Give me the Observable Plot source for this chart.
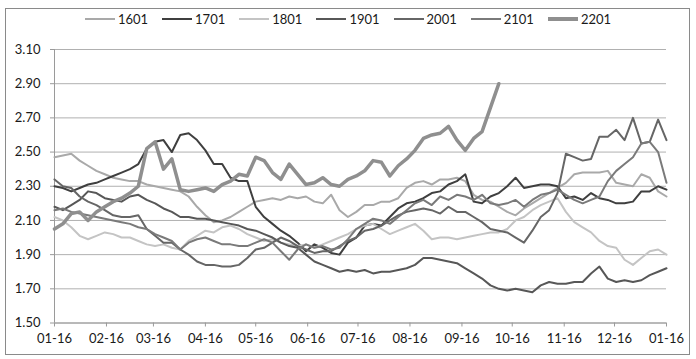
<!DOCTYPE html>
<html><head><meta charset="utf-8">
<script src="https://cdn.jsdelivr.net/npm/d3@7"></script>
<script src="https://cdn.jsdelivr.net/npm/@observablehq/plot@0.6"></script>
<style>
body{margin:0;background:#fff;font-family:Lato,"Liberation Sans",sans-serif;}
#wrap{position:relative;width:696px;height:359px;overflow:hidden;background:#fff;}
#frame{position:absolute;left:5px;top:8px;width:685px;height:347px;border:1px solid #8a8a8a;box-sizing:border-box;}
#legend{position:absolute;left:0;top:11px;width:696px;display:flex;justify-content:center;font-size:13px;color:#1a1a1a;line-height:16px;}
.item{display:flex;align-items:center;margin:0 7px;}
.sw{width:30px;margin-right:3px;}
#chart{position:absolute;left:0;top:36px;}
</style></head><body>
<div id="wrap"><div id="frame"></div><div id="legend"></div><div id="chart"></div></div>
<script>
const names = ["1601","1701","1801","1901","2001","2101","2201"];
const colors = ["#a9a9a9","#3f3f3f","#c4c4c4","#575757","#666666","#7a7a7a","#8f8f8f"];
const yTicks = [1.5,1.7,1.9,2.1,2.3,2.5,2.7,2.9,3.1];
const tickDays = ["2021-01-16","2021-02-16","2021-03-16","2021-04-16","2021-05-16","2021-06-16","2021-07-16","2021-08-16","2021-09-16","2021-10-16","2021-11-16","2021-12-16","2022-01-16"];
// observation dates: every 5 days from 01-16 to the next 01-16
const dates = d3.range(74).map(i => new Date(Date.UTC(2021, 0, 16 + 5 * i)));

const s1601 = [2.47,2.48,2.49,2.45,2.42,2.39,2.37,2.35,2.34,2.33,
 2.33,2.31,2.30,2.29,2.28,2.27,2.24,2.18,2.13,2.09,
 2.10,2.12,2.15,2.18,2.21,2.22,2.23,2.22,2.24,2.23,
 2.24,2.21,2.20,2.25,2.16,2.12,2.15,2.19,2.19,2.21,
 2.21,2.23,2.29,2.32,2.33,2.31,2.34,2.34,2.35,2.33,
 2.25,2.22,2.21,2.18,2.15,2.13,2.17,2.20,2.23,2.26,
 2.29,2.32,2.37,2.38,2.38,2.38,2.39,2.32,2.31,2.30,
 2.37,2.35,2.27,2.24];
const s1701 = [2.30,2.29,2.27,2.29,2.31,2.32,2.34,2.36,2.38,2.40,
 2.43,2.52,2.56,2.57,2.50,2.60,2.61,2.57,2.51,2.43,
 2.43,2.35,2.33,2.33,2.18,2.12,2.08,2.04,2.01,1.97,
 1.92,1.96,1.94,1.91,1.90,1.97,2.00,2.07,2.08,2.07,
 2.12,2.17,2.20,2.21,2.23,2.26,2.27,2.31,2.33,2.37,
 2.21,2.20,2.24,2.26,2.30,2.35,2.29,2.30,2.31,2.31,
 2.30,2.23,2.24,2.22,2.26,2.23,2.22,2.20,2.20,2.21,
 2.27,2.27,2.30,2.28];
const s1801 = [2.12,2.10,2.06,2.01,1.99,2.01,2.03,2.02,2.00,2.00,
 1.98,1.96,1.95,1.96,1.94,1.93,1.98,2.01,2.04,2.03,
 2.06,2.07,2.05,2.02,2.00,1.98,1.99,1.97,1.96,1.95,
 1.96,1.94,1.96,1.98,2.00,2.02,2.05,2.07,2.08,2.05,
 2.02,2.04,2.06,2.08,2.04,1.99,2.00,2.00,1.99,2.00,
 2.01,2.02,2.03,2.03,2.05,2.10,2.12,2.16,2.19,2.21,
 2.23,2.15,2.09,2.06,2.03,1.98,1.95,1.94,1.87,1.84,
 1.88,1.92,1.93,1.90];
const s1901 = [2.18,2.16,2.19,2.22,2.27,2.26,2.23,2.22,2.21,2.24,
 2.25,2.22,2.20,2.17,2.15,2.12,2.12,2.11,2.11,2.10,
 2.09,2.08,2.07,2.05,2.04,2.02,2.00,1.97,1.95,1.94,
 1.90,1.86,1.84,1.82,1.80,1.81,1.80,1.81,1.79,1.80,
 1.80,1.81,1.82,1.84,1.88,1.88,1.87,1.86,1.85,1.82,
 1.79,1.76,1.72,1.70,1.69,1.70,1.69,1.68,1.72,1.74,
 1.73,1.73,1.74,1.74,1.79,1.83,1.76,1.74,1.75,1.74,
 1.75,1.78,1.80,1.82];
const s2001 = [2.34,2.30,2.29,2.24,2.21,2.19,2.16,2.13,2.12,2.12,
 2.13,2.05,2.01,1.97,1.97,1.93,1.90,1.86,1.84,1.84,
 1.83,1.83,1.84,1.88,1.93,1.94,1.97,2.00,1.98,1.95,
 1.93,1.91,1.92,1.92,1.95,1.98,2.00,2.04,2.05,2.07,
 2.10,2.13,2.15,2.16,2.17,2.16,2.14,2.18,2.15,2.15,
 2.12,2.09,2.05,2.04,2.03,2.00,1.97,2.04,2.12,2.16,
 2.26,2.49,2.47,2.45,2.46,2.59,2.59,2.63,2.57,2.70,
 2.55,2.56,2.69,2.57];
const s2101 = [2.16,2.17,2.15,2.14,2.13,2.12,2.11,2.10,2.09,2.08,
 2.06,2.05,2.02,2.00,1.98,1.93,1.97,1.99,2.00,1.98,
 1.96,1.96,1.95,1.95,1.97,1.99,1.97,1.92,1.87,1.93,
 1.96,1.94,1.95,1.93,1.94,1.99,2.05,2.08,2.11,2.10,
 2.08,2.12,2.16,2.20,2.22,2.19,2.24,2.22,2.25,2.24,
 2.22,2.25,2.20,2.19,2.20,2.22,2.18,2.22,2.25,2.26,
 2.28,2.25,2.22,2.20,2.22,2.24,2.33,2.39,2.43,2.47,
 2.55,2.56,2.50,2.32];
const s2201 = [2.05,2.08,2.14,2.15,2.10,2.15,2.18,2.21,2.23,2.26,
 2.30,2.52,2.56,2.40,2.46,2.28,2.27,2.28,2.29,2.27,
 2.31,2.33,2.37,2.36,2.47,2.45,2.38,2.34,2.43,2.37,
 2.31,2.32,2.35,2.31,2.30,2.34,2.36,2.39,2.45,2.44,
 2.36,2.42,2.46,2.51,2.58,2.60,2.61,2.65,2.57,2.51,
 2.58,2.62,2.76,2.90];

const seriesValues = [s1601, s1701, s1801, s1901, s2001, s2101, s2201];
const rows = [];
seriesValues.forEach((vals, k) => vals.forEach((v, i) => rows.push({date: dates[i], v, s: names[k]})));

// legend
const leg = document.getElementById("legend");
names.forEach((n, k) => {
  const it = document.createElement("div"); it.className = "item";
  const sw = document.createElement("div"); sw.className = "sw";
  sw.style.height = (n === "2201" ? 4 : 2) + "px"; sw.style.background = colors[k];
  const tx = document.createElement("span"); tx.textContent = n;
  it.appendChild(sw); it.appendChild(tx); leg.appendChild(it);
});

const parse = d3.utcParse("%Y-%m-%d");
const tickDates = tickDays.map(parse);
const start = tickDates[0], end = tickDates[tickDates.length - 1];

const chart = Plot.plot({
  width: 696, height: 323,
  marginLeft: 54, marginRight: 30, marginTop: 13, marginBottom: 36.5,
  style: {fontFamily: "Lato, 'Liberation Sans', sans-serif", fontSize: "13px", color: "#1a1a1a", background: "transparent"},
  x: {type: "utc", domain: [start, end], label: null},
  y: {domain: [1.5, 3.1], label: null},
  color: {domain: names, range: colors},
  marks: [
    Plot.gridY(yTicks, {stroke: "#b0b0b0", strokeOpacity: 1, strokeWidth: 1}),
    Plot.ruleX([start], {stroke: "#9a9a9a"}),
    Plot.ruleY([1.5], {stroke: "#9a9a9a"}),
    Plot.axisY(yTicks, {tickSize: 4, tickPadding: 10, tickFormat: d => d.toFixed(2), stroke: "#9a9a9a", label: null}),
    Plot.axisX(tickDates, {tickSize: 4, tickPadding: 7, tickFormat: d3.utcFormat("%m-%d"), stroke: "#9a9a9a", label: null}),
    Plot.line(rows.filter(r => r.s !== "2201"), {x: "date", y: "v", z: "s", stroke: "s", strokeWidth: 2, strokeLinejoin: "round"}),
    Plot.line(rows.filter(r => r.s === "2201"), {x: "date", y: "v", stroke: "s", strokeWidth: 3.5, strokeLinejoin: "round"})
  ]
});
document.getElementById("chart").appendChild(chart);
</script>
</body></html>
